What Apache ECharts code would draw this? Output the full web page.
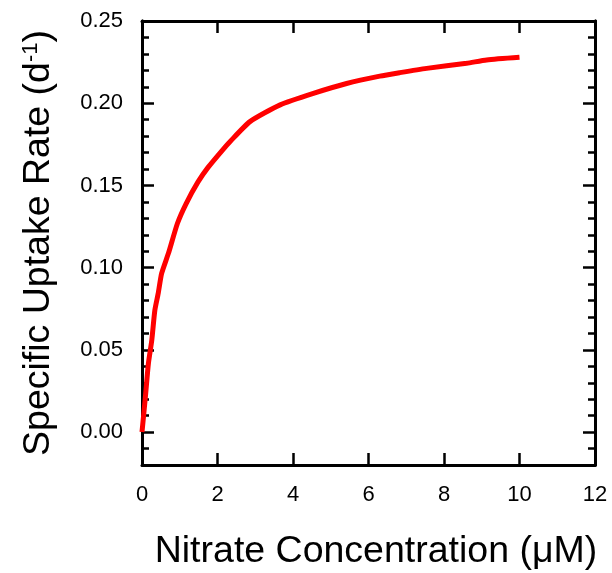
<!DOCTYPE html>
<html>
<head>
<meta charset="utf-8">
<script src="https://cdn.jsdelivr.net/npm/echarts@6/dist/echarts.min.js"></script>
<style>
  html, body { margin: 0; padding: 0; background: #fff; }
  #chart { width: 612px; height: 573px; }
</style>
</head>
<body>
<div id="chart"></div>
<script>
// nitrate concentration (uM) and specific uptake rate (1/d)
var nitrate = [0, 0.09, 0.17, 0.26, 0.34, 0.43, 0.52, 0.70, 0.94, 1.17, 1.48, 1.75,
  2.15, 2.33, 2.86, 3.66, 4.54, 5.42, 6.3, 6.83, 7.54, 8.6, 9.13, 10.0];
var uptake = [0, 0.0215, 0.0418, 0.056, 0.074, 0.0844, 0.0965, 0.1087, 0.127, 0.139, 0.152, 0.161,
  0.172, 0.1766, 0.1888, 0.199, 0.206, 0.212, 0.2165, 0.2186, 0.2212, 0.2243, 0.2263, 0.2279];

var yMajor = [0, 0.05, 0.10, 0.15, 0.20, 0.25];
var yMinor = [-0.02, -0.01, 0.01, 0.02, 0.03, 0.04, 0.06, 0.07, 0.08, 0.09,
  0.11, 0.12, 0.13, 0.14, 0.16, 0.17, 0.18, 0.19, 0.21, 0.22, 0.23, 0.24];

var font = 'Liberation Sans, Arial, Helvetica, sans-serif';
var points = nitrate.map(function (x, i) { return [x, uptake[i]]; });

var chart = echarts.init(document.getElementById('chart'));

function xAx(pos, show) {
  return {
    type: 'value', position: pos, min: 0, max: 12, interval: 2,
    axisLine: { show: true, onZero: false, lineStyle: { color: '#000', width: 3 } },
    axisTick: { show: true, inside: true, length: 12, lineStyle: { color: '#000', width: 2.5 } },
    axisLabel: { show: show, color: '#000', fontSize: 22, fontFamily: font, margin: 19 },
    splitLine: { show: false }
  };
}

function yAx(pos, ticks, len, show) {
  return {
    type: 'value', position: pos, min: -0.02, max: 0.25,
    axisLine: { show: true, onZero: false, lineStyle: { color: '#000', width: 3 } },
    axisTick: { show: true, inside: true, length: len, customValues: ticks,
      lineStyle: { color: '#000', width: 2.5 } },
    axisLabel: { show: show, customValues: yMajor, color: '#000', fontSize: 22, fontFamily: font,
      margin: 19, formatter: function (v) { return v.toFixed(2); } },
    splitLine: { show: false }
  };
}

var option = {
  animation: false,
  backgroundColor: '#fff',
  grid: { left: 142, right: 17, top: 21, bottom: 108, outerBoundsMode: 'none' },
  xAxis: [
    Object.assign(xAx('bottom', true), {
      name: 'Nitrate Concentration (\u03bcM)', nameLocation: 'middle', nameGap: 68,
      nameTextStyle: { color: '#000', fontSize: 37.5, fontFamily: font, padding: [0, 0, 0, 15] }
    }),
    xAx('top', false)
  ],
  yAxis: [
    Object.assign(yAx('left', yMajor, 12, true), {
      name: 'Specific Uptake Rate (d{sup|-1})', nameLocation: 'middle', nameGap: 84,
      nameTextStyle: { color: '#000', fontSize: 37.5, fontFamily: font,
        rich: { sup: { fontSize: 22, fontFamily: font, color: '#000', verticalAlign: 'top', padding: [0, 0, 14, 0] } } }
    }),
    yAx('left', yMinor, 7, false),
    yAx('right', yMajor, 12, false),
    yAx('right', yMinor, 7, false)
  ],
  series: [{
    type: 'line', xAxisIndex: 0, yAxisIndex: 0,
    data: points, showSymbol: false, smooth: 0.2,
    lineStyle: { color: '#ff0000', width: 5 }
  }]
};
chart.setOption(option);
</script>
</body>
</html>
